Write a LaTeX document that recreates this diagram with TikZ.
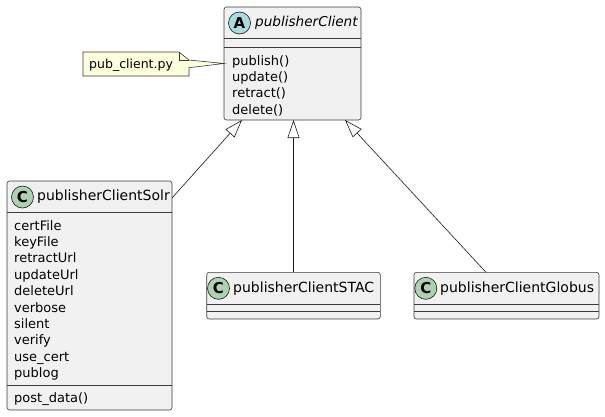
\documentclass[tikz,border=0pt]{standalone}
\usepackage{fontspec}
\setmainfont{DejaVu Sans}
\usetikzlibrary{arrows.meta,calc}
\definecolor{boxfill}{HTML}{F1F1F1}
\definecolor{boxline}{HTML}{181818}
\definecolor{notefill}{HTML}{FEFFDD}
\definecolor{absfill}{HTML}{A9DCDF}
\definecolor{clsfill}{HTML}{ADD1B2}
\tikzset{
  classbox/.style={draw=boxline!85, fill=boxfill, line width=0.6pt, rounded corners=2.5pt, inner sep=0pt, outer sep=0pt, anchor=north west},
  sepline/.style={draw=boxline!85, line width=0.6pt},
  icon/.style={circle, draw=boxline, line width=0.6pt, minimum size=22pt, inner sep=0pt, font=\fontsize{15}{15}\selectfont\bfseries},
  cname/.style={anchor=west, inner sep=0pt, font=\fontsize{14}{16}\selectfont},
  member/.style={anchor=base west, inner sep=0pt, font=\fontsize{13}{15}\selectfont},
  inh/.style={draw=boxline, line width=0.6pt, -{Triangle[open, length=18pt, width=12pt]}},
  notestyle/.style={draw=boxline!85, fill=notefill, line width=0.6pt, line join=miter}
}
\begin{document}
\begin{tikzpicture}[x=1pt,y=-1pt]
\useasboundingbox (0,0) rectangle (605,416);
% publisherClient
\node[classbox, minimum width=137pt, minimum height=113pt] (pc) at (224,7) {};
\draw[sepline] (224,38.5) -- (361,38.5);
\draw[sepline] (224,47.5) -- (361,47.5);
\node[icon, fill=absfill] (pcicon) at (239.5,23) {A};
\node[cname, font=\fontsize{13.6}{16}\selectfont\itshape] (pcname) at (255,23) {publisherClient};
\node[member] (m1) at (232,65) {publish()};
\node[member] (m2) at (232,81.4) {update()};
\node[member] (m3) at (232,97.8) {retract()};
\node[member] (m4) at (232,114.2) {delete()};
% note
\node[anchor=north west, minimum width=106pt, minimum height=24pt, inner sep=0pt, outer sep=0pt] (note) at (83,52) {};
\draw[notestyle] (note.north west) -- ([xshift=-10pt]note.north east) -- ([yshift=-8pt]note.north east)
  -- (pc.west) -- ([yshift=-15.7pt]note.north east) -- (note.south east) -- (note.south west) -- cycle;
\draw[notestyle, fill=none] ([xshift=-10pt]note.north east) -- ([xshift=-10pt,yshift=-8pt]note.north east) -- ([yshift=-8pt]note.north east);
\node[member, font=\fontsize{12.5}{14}\selectfont] (notetext) at (89,68.5) {pub\_client.py};
% publisherClientSolr
\node[classbox, minimum width=165pt, minimum height=229pt] (solr) at (7,181) {};
\draw[sepline] (7,212.5) -- (172,212.5);
\draw[sepline] (7,385) -- (172,385);
\node[icon, fill=clsfill] (solricon) at (22.5,197) {C};
\node[cname] (solrname) at (37,197) {publisherClientSolr};
\node[member] (a1) at (14,230) {certFile};
\node[member] (a2) at (14,246.4) {keyFile};
\node[member] (a3) at (14,262.8) {retractUrl};
\node[member] (a4) at (14,279.2) {updateUrl};
\node[member] (a5) at (14,295.6) {deleteUrl};
\node[member] (a6) at (14,312) {verbose};
\node[member] (a7) at (14,328.4) {silent};
\node[member] (a8) at (14,344.8) {verify};
\node[member] (a9) at (14,361.2) {use\_cert};
\node[member] (a10) at (14,377.6) {publog};
\node[member] (a11) at (14,402.5) {post\_data()};
% publisherClientSTAC
\node[classbox, minimum width=173.6pt, minimum height=46.7pt] (stac) at (206.7,272.3) {};
\draw[sepline] (206.7,304) -- (380.3,304);
\draw[sepline] (206.7,311.7) -- (380.3,311.7);
\node[icon, fill=clsfill] (stacicon) at (218.5,288.3) {C};
\node[cname] (stacname) at (233,288.3) {publisherClientSTAC};
% publisherClientGlobus
\node[classbox, minimum width=185pt, minimum height=46.7pt] (globus) at (414,272.3) {};
\draw[sepline] (414,304) -- (599,304);
\draw[sepline] (414,311.7) -- (599,311.7);
\node[icon, fill=clsfill] (globusicon) at (425.8,288.3) {C};
\node[cname] (globusname) at (440,288.3) {publisherClientGlobus};
% inheritance
\draw[inh] ([yshift=-17pt]solr.north east) -- ([xshift=18pt]pc.south west);
\draw[inh] (stac.north) -- (stac.north |- pc.south);
\draw[inh] ([xshift=-20.5pt]globus.north) -- ([xshift=-16pt]pc.south east);
\end{tikzpicture}
\end{document}
